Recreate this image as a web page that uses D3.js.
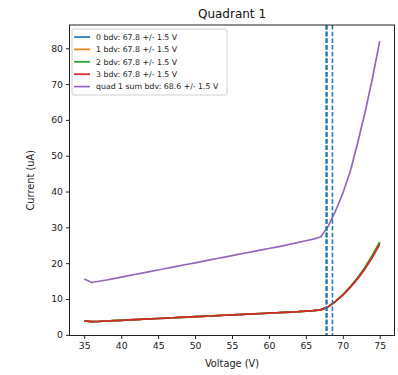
<!DOCTYPE html>
<html>
<head>
<meta charset="utf-8">
<script src="https://cdn.jsdelivr.net/npm/d3@7"></script>
<style>
  html, body { margin: 0; padding: 0; background: #fff; }
  svg { display: block; font-family: "DejaVu Sans", sans-serif; }
</style>
</head>
<body>
<svg id="chart" width="398" height="375"></svg>
<script>
// Bias voltage sweep (V)
const voltage = [35,36,37,38,39,40,41,42,43,44,45,46,47,48,49,50,51,52,53,54,55,
                 56,57,58,59,60,61,62,63,64,65,66,67,68,69,70,71,72,73,74,75];

// Per-channel leakage currents (uA)
const ch0 = [3.9,3.7,3.75,3.85,3.95,4.05,4.15,4.25,4.35,4.45,4.55,4.65,4.75,4.85,4.95,5.05,5.15,5.25,5.35,5.45,5.55,
             5.65,5.75,5.85,5.95,6.05,6.15,6.25,6.35,6.45,6.6,6.75,6.95,7.8,9.3,11.1,13.3,15.8,18.7,22.0,25.6];
const ch1 = [3.9,3.7,3.75,3.85,3.95,4.05,4.15,4.25,4.35,4.45,4.55,4.65,4.75,4.85,4.95,5.05,5.15,5.25,5.35,5.45,5.55,
             5.65,5.75,5.85,5.95,6.05,6.15,6.25,6.35,6.45,6.6,6.75,6.95,7.8,9.3,11.1,13.3,15.8,18.7,22.0,25.7];
const ch2 = [3.9,3.7,3.75,3.85,3.95,4.05,4.15,4.25,4.35,4.45,4.55,4.65,4.75,4.85,4.95,5.05,5.15,5.25,5.35,5.45,5.55,
             5.65,5.75,5.85,5.95,6.05,6.15,6.25,6.35,6.45,6.6,6.75,6.95,7.8,9.3,11.2,13.4,15.9,18.8,22.2,25.9];
const ch3 = [3.9,3.7,3.75,3.85,3.95,4.05,4.15,4.25,4.35,4.45,4.55,4.65,4.75,4.85,4.95,5.05,5.15,5.25,5.35,5.45,5.55,
             5.65,5.75,5.85,5.95,6.05,6.15,6.25,6.35,6.45,6.6,6.75,6.95,7.8,9.3,11.1,13.2,15.6,18.4,21.6,25.2];
// Summed quadrant current (uA)
const quadSum = [15.6,14.6,14.95,15.3,15.7,16.1,16.5,16.9,17.3,17.7,18.1,18.5,18.9,19.3,19.7,20.1,20.5,20.9,21.3,21.7,22.1,
                 22.5,22.9,23.3,23.7,24.1,24.5,24.9,25.35,25.8,26.25,26.7,27.3,30.2,34.5,39.5,45.5,53.5,62,71.5,82];

// Breakdown voltages (V)
const bdvChannels = [67.8, 67.8, 67.8, 67.8];
const bdvSum = 68.6;

const seriesNames = ["0 bdv: 67.8 +/- 1.5 V", "1 bdv: 67.8 +/- 1.5 V", "2 bdv: 67.8 +/- 1.5 V",
                     "3 bdv: 67.8 +/- 1.5 V", "quad 1 sum bdv: 68.6 +/- 1.5 V"];
const seriesColors = ["#1f77b4", "#ff7f0e", "#2ca02c", "#d62728", "#9467bd"];

const xTicks = [35,40,45,50,55,60,65,70,75];
const yTicks = [0,10,20,30,40,50,60,70,80];

const svg = d3.select("#chart");
const plot = { left: 69.5, right: 394.5, top: 25, bottom: 335.5 };

const x = d3.scaleLinear().domain([33, 77]).range([plot.left, plot.right]);
const y = d3.scaleLinear().domain([-0.2, 86.5]).range([plot.bottom, plot.top]);

// Title
svg.append("text")
  .attr("x", (plot.left + plot.right) / 2).attr("y", 18)
  .attr("text-anchor", "middle").attr("font-size", 12).attr("fill", "#111")
  .text("Quadrant 1");

// Axes
const xAxis = svg.append("g")
  .attr("transform", `translate(0,${plot.bottom})`)
  .call(d3.axisBottom(x).tickValues(xTicks).tickSize(3.5).tickPadding(3));
const yAxis = svg.append("g")
  .attr("transform", `translate(${plot.left},0)`)
  .call(d3.axisLeft(y).tickValues(yTicks).tickSize(3.5).tickPadding(3));
[xAxis, yAxis].forEach(g => {
  g.select(".domain").remove();
  g.selectAll("text").attr("font-size", 9.3).attr("fill", "#222").attr("font-family", "DejaVu Sans, sans-serif");
  g.selectAll("line").attr("stroke", "#222");
});

// Axis labels
svg.append("text")
  .attr("x", (plot.left + plot.right) / 2).attr("y", 367)
  .attr("text-anchor", "middle").attr("font-size", 9.8).attr("fill", "#222")
  .text("Voltage (V)");
svg.append("text")
  .attr("transform", `translate(34,${(plot.top + plot.bottom) / 2}) rotate(-90)`)
  .attr("text-anchor", "middle").attr("font-size", 9.8).attr("fill", "#222")
  .text("Current (uA)");

// Curves
svg.append("defs").append("clipPath").attr("id", "plotclip")
  .append("rect").attr("x", plot.left).attr("y", plot.top)
  .attr("width", plot.right - plot.left).attr("height", plot.bottom - plot.top);

const line = d3.line().x((d, i) => x(voltage[i])).y(d => y(d));
const allSeries = [ch0, ch1, ch2, ch3, quadSum];
const curves = svg.append("g").attr("clip-path", "url(#plotclip)");
allSeries.forEach((s, i) => {
  curves.append("path")
    .attr("d", line(s))
    .attr("fill", "none")
    .attr("stroke", seriesColors[i])
    .attr("stroke-width", 1.7)
    .attr("stroke-linejoin", "round");
});

// Breakdown markers
[...bdvChannels, bdvSum].forEach(v => {
  curves.append("line")
    .attr("x1", x(v)).attr("x2", x(v))
    .attr("y1", plot.top).attr("y2", plot.bottom)
    .attr("stroke", "#2f7aad").attr("stroke-width", 1.6)
    .attr("stroke-dasharray", "4.5,2.2");
});

// Frame
svg.append("rect")
  .attr("x", plot.left).attr("y", plot.top)
  .attr("width", plot.right - plot.left).attr("height", plot.bottom - plot.top)
  .attr("fill", "none").attr("stroke", "#222").attr("stroke-width", 1);

// Legend
const legend = svg.append("g").attr("transform", "translate(72,29)");
legend.append("rect")
  .attr("x", 0).attr("y", 0).attr("width", 155).attr("height", 66)
  .attr("rx", 2).attr("fill", "#fff").attr("fill-opacity", 0.85)
  .attr("stroke", "#d0d0d0").attr("stroke-width", 1);
seriesNames.forEach((name, i) => {
  const row = legend.append("g").attr("transform", `translate(0,${8 + i * 12.4})`);
  row.append("line").attr("x1", 2).attr("x2", 18).attr("y1", 0).attr("y2", 0)
    .attr("stroke", seriesColors[i]).attr("stroke-width", 1.7);
  row.append("text").attr("x", 24).attr("y", 2.8)
    .attr("font-size", 7.8).attr("fill", "#222").text(name);
});
</script>
</body>
</html>
